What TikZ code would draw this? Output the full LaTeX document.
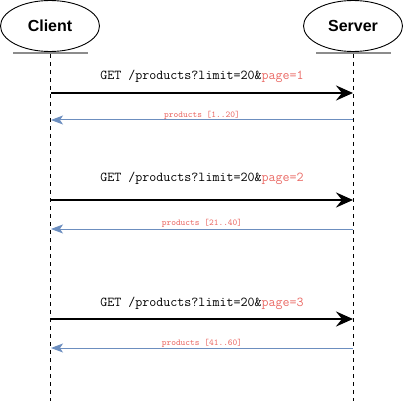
\documentclass[tikz,border=0pt]{standalone}
\usepackage{fontspec}
\setmainfont{Liberation Sans}
\usepackage{tikz}
\usetikzlibrary{shapes.geometric,arrows.meta}
\definecolor{reqred}{HTML}{EA6B66}
\definecolor{resblue}{HTML}{6C8EBF}
\definecolor{footgray}{HTML}{8C8C8C}
\tikzset{
	actor/.style={ellipse,draw,line width=0.9pt,minimum width=99pt,minimum height=51pt,inner sep=0pt,font=\bfseries\fontsize{16}{18}\selectfont},
	actorfoot/.style={footgray,line width=1.6pt},
	lifeline/.style={dashed,dash pattern=on 4pt off 4pt,line width=0.9pt},
	request/.style={line width=2.8pt,-{Stealth[length=17pt,width=15pt,inset=6pt]}},
	response/.style={resblue,line width=1pt,-{Stealth[length=12pt,width=9pt,inset=3pt]}},
	reqlabel/.style={font=\ttfamily\fontsize{13.6}{15}\selectfont,inner sep=0pt},
	reslabel/.style={font=\ttfamily\fontsize{9}{10}\selectfont,text=reqred,inner sep=0pt}
}
\newcommand{\getpage}[1]{GET /products?limit=20\&\textcolor{reqred}{page=#1}}

\begin{document}
\begin{tikzpicture}[x=1pt,y=-1pt]
	\useasboundingbox (0,0) rectangle (404,401);
	\node [actor] (client) at (50,26) {Client};
	\node [actor] (server) at (353,26) {Server};

	\coordinate (cfl) at (13,53);
	\coordinate (cfr) at (88,53);
	\coordinate (sfl) at (316,53);
	\coordinate (sfr) at (391,53);
	\draw [actorfoot] (cfl) -- (cfr);
	\draw [actorfoot] (sfl) -- (sfr);

	\coordinate (ctop) at (50,54);
	\coordinate (cend) at (50,401);
	\coordinate (stop) at (353,54);
	\coordinate (send) at (353,401);
	\draw [lifeline] (ctop) -- (cend);
	\draw [lifeline] (stop) -- (send);

	% page 1
	\coordinate (c1) at (51,93);
	\coordinate (s1) at (353,93);
	\coordinate (c1r) at (51,120);
	\coordinate (s1r) at (353,120);
	\node [reqlabel] (get1) at (202,76) {\getpage{1}};
	\draw [request] (c1) -- (s1);
	\node [reslabel] (res1) at (202,115) {products [1..20]};
	\draw [response] (s1r) -- (c1r);

	% page 2
	\coordinate (c2) at (51,200);
	\coordinate (s2) at (353,200);
	\coordinate (c2r) at (51,229);
	\coordinate (s2r) at (353,229);
	\node [reqlabel] (get2) at (202,178) {\getpage{2}};
	\draw [request] (c2) -- (s2);
	\node [reslabel] (res2) at (202,223) {products [21..40]};
	\draw [response] (s2r) -- (c2r);

	% page 3
	\coordinate (c3) at (51,319);
	\coordinate (s3) at (353,319);
	\coordinate (c3r) at (51,348);
	\coordinate (s3r) at (353,348);
	\node [reqlabel] (get3) at (202,303) {\getpage{3}};
	\draw [request] (c3) -- (s3);
	\node [reslabel] (res3) at (202,343) {products [41..60]};
	\draw [response] (s3r) -- (c3r);
\end{tikzpicture}
\end{document}
